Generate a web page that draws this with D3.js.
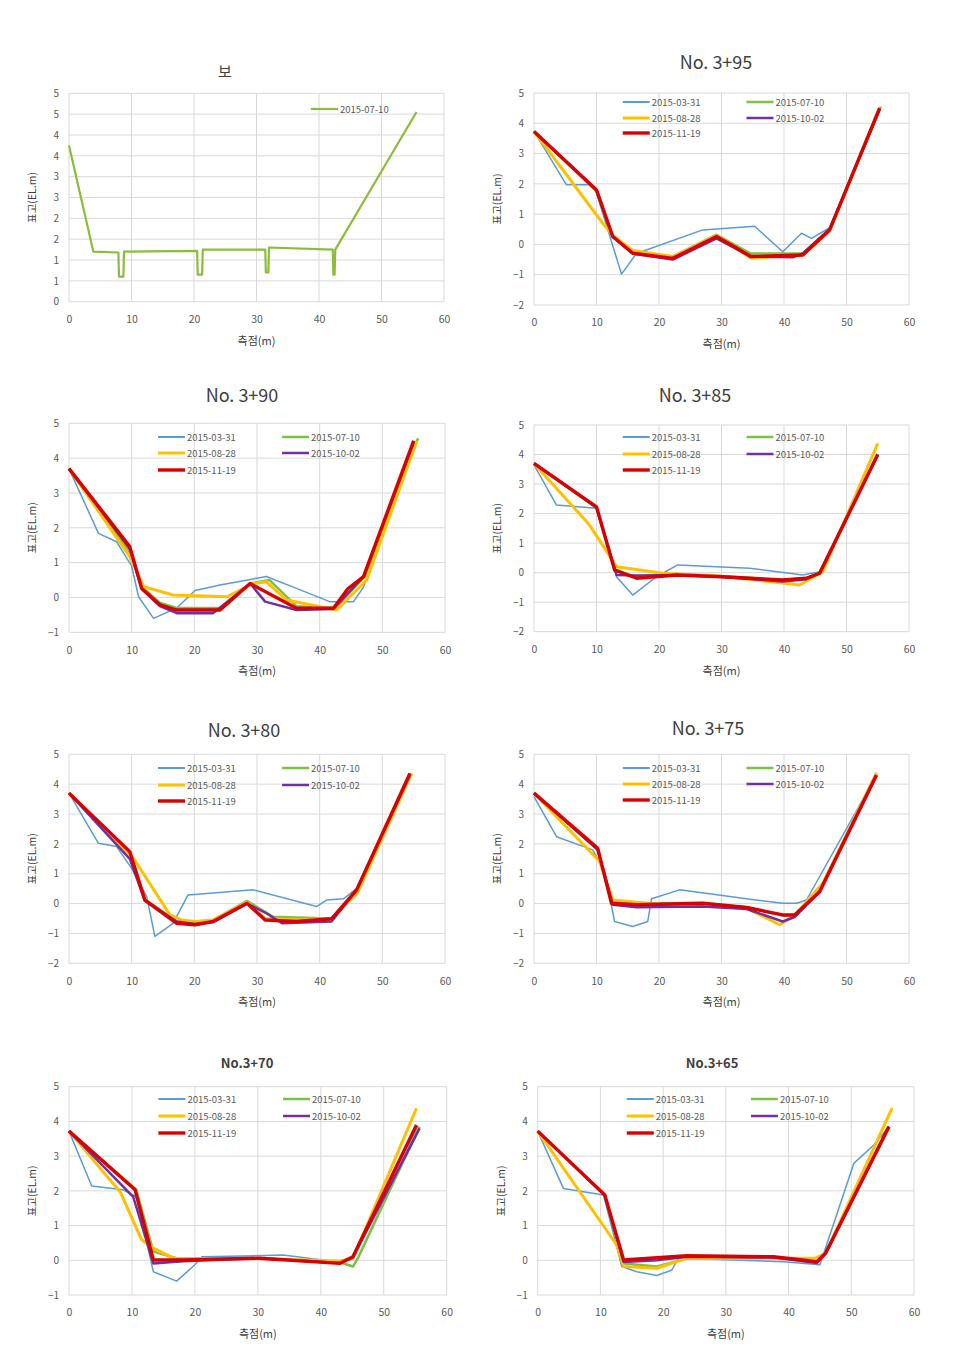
<!DOCTYPE html>
<html><head><meta charset="utf-8">
<script src="https://cdn.jsdelivr.net/npm/d3@7"></script>
<style>
body{margin:0;background:#fff;}
text{font-family:"Noto Sans CJK KR","Noto Sans",sans-serif;}
</style></head>
<body><svg id="c" width="962" height="1362"></svg>
<script>
// ---------- DATA ----------
const seriesNames = ["2015-03-31","2015-07-10","2015-08-28","2015-10-02","2015-11-19"];
const seriesColors = ["#5b9bd5","#7cc242","#ffc000","#7030a0","#d80000"];
const seriesWidths = [1.5,2.5,3,2.5,3.4];
const xTicks = [0,10,20,30,40,50,60];
const yTicksWeir = [0,0.5,1,1.5,2,2.5,3,3.5,4,4.5,5];
const yTickLabelsWeir = ["0","1","1","2","2","3","3","4","4","5","5"];
const yTicksA = [-2,-1,0,1,2,3,4,5];
const yTicksB = [-1,0,1,2,3,4,5];
const titles = ["보","No. 3+95","No. 3+90","No. 3+85","No. 3+80","No. 3+75","No.3+70","No.3+65"];
const xAxisTitle = "측점(m)";
const yAxisTitle = "표고(EL.m)";

// 보 (weir), 2015-07-10
const weir_0710 = [[0,3.75],[3.9,1.2],[7.9,1.18],[8.0,0.6],[8.7,0.6],[8.8,1.2],[20.5,1.22],[20.6,0.65],[21.3,0.65],[21.4,1.25],[31.4,1.25],[31.5,0.7],[31.9,0.7],[32.0,1.3],[42.2,1.25],[42.3,0.65],[42.5,0.65],[42.6,1.25],[55.6,4.55]];

// No. 3+95
const s395_0331 = [[0,3.73],[5.2,1.97],[9.2,1.97],[10,1.7],[14,-0.98],[16.4,-0.3],[27,0.48],[35.3,0.6],[39.8,-0.24],[42.8,0.37],[44.4,0.2],[47.3,0.55],[55.3,4.5]];
const s395_0710 = [[0,3.73],[10,1.75],[12.6,0.25],[15.8,-0.25],[22.2,-0.4],[29.2,0.32],[34.7,-0.3],[43,-0.3],[47.3,0.5],[55.5,4.55]];
const s395_0828 = [[0,3.73],[11,0.7],[12.6,0.3],[15.8,-0.2],[22.2,-0.4],[29.2,0.3],[34.7,-0.45],[43,-0.35],[47.3,0.45],[55.3,4.5]];
const s395_1002 = [[0,3.73],[10,1.8],[12.6,0.25],[15.8,-0.3],[22.2,-0.5],[29.2,0.2],[34.7,-0.4],[41.5,-0.42],[43,-0.3],[47.3,0.5],[55.3,4.45]];
const s395_1119 = [[0,3.73],[10,1.8],[12.6,0.26],[15.8,-0.29],[22.2,-0.46],[29.2,0.26],[34.7,-0.4],[43,-0.35],[47.3,0.48],[55.3,4.5]];

// No. 3+90
const s390_0331 = [[0,3.7],[4.7,1.84],[7.6,1.6],[10,0.9],[11.1,0.02],[13.5,-0.6],[17.2,-0.3],[20.1,0.2],[24.1,0.36],[31.5,0.6],[36.3,0.26],[41.6,-0.12],[45.4,-0.12],[47,0.3],[55,4.5]];
const s390_0710 = [[0,3.7],[9.7,1.3],[11.6,0.3],[14.5,-0.15],[17.2,-0.3],[24.1,-0.3],[28.9,0.4],[32,0.5],[36.3,-0.25],[42.5,-0.3],[47.2,0.6],[55.7,4.57]];
const s390_0828 = [[0,3.7],[9.7,1.17],[11.9,0.31],[16.6,0.07],[25.2,0.02],[29.4,0.4],[31.5,0.45],[34.7,-0.07],[42.7,-0.36],[47.5,0.5],[55.5,4.5]];
const s390_1002 = [[0,3.7],[9.7,1.4],[11.6,0.25],[14.5,-0.25],[17.2,-0.45],[23,-0.45],[28.9,0.4],[31.3,-0.12],[36.3,-0.36],[42.2,-0.33],[47,0.6],[55,4.45]];
const s390_1119 = [[0,3.7],[9.7,1.46],[11.6,0.26],[14.5,-0.21],[17.2,-0.36],[24.1,-0.36],[28.9,0.4],[36.3,-0.31],[42.2,-0.31],[44.5,0.25],[47,0.6],[55,4.5]];

// No. 3+85
const s385_0331 = [[0,3.65],[3.6,2.29],[10,2.18],[13.2,-0.14],[15.8,-0.76],[19.6,-0.14],[23,0.26],[34.5,0.15],[43,-0.08],[45.7,0.03],[55,3.98]];
const s385_0710 = [[0,3.7],[10,2.2],[12.9,0.12],[16.4,-0.15],[22.8,-0.05],[30.2,-0.12],[39.8,-0.25],[43.6,-0.18],[45.7,0],[55,4.02]];
const s385_0828 = [[0,3.7],[8.9,1.61],[13.2,0.2],[20.6,-0.02],[30,-0.12],[42.5,-0.42],[46.2,0.03],[55,4.38]];
const s385_1002 = [[0,3.7],[10,2.2],[13.2,-0.08],[16.4,-0.1],[22.8,-0.08],[30.2,-0.15],[39.8,-0.3],[43.6,-0.22],[45.7,-0.02],[55,3.98]];
const s385_1119 = [[0,3.7],[10,2.23],[12.9,0.09],[16.4,-0.19],[22.8,-0.08],[30.2,-0.14],[39.8,-0.25],[43.6,-0.19],[45.7,-0.02],[55,4.0]];

// No. 3+80
const s380_0331 = [[0,3.7],[4.7,2.02],[7.6,1.91],[10,1.18],[12.4,0.23],[13.7,-1.1],[16.6,-0.66],[19,0.29],[29.4,0.46],[39.5,-0.1],[41.1,0.12],[43.8,0.16],[45.9,0.51],[54.4,4.3]];
const s380_0710 = [[0,3.7],[9.7,1.7],[12.1,0.15],[17.2,-0.6],[20.1,-0.62],[23,-0.55],[28.4,0.09],[32.6,-0.44],[36.3,-0.47],[41.9,-0.5],[45.9,0.46],[54.4,4.36]];
const s380_0828 = [[0,3.7],[10.3,1.52],[16.1,-0.38],[18,-0.55],[20.1,-0.6],[23,-0.55],[28.4,0.05],[31.3,-0.5],[36.3,-0.55],[41.9,-0.5],[46,0.35],[54.7,4.36]];
const s380_1002 = [[0,3.7],[9.7,1.5],[12.1,0.1],[17.2,-0.6],[20.1,-0.68],[23,-0.62],[28.4,0.0],[31.3,-0.3],[34,-0.66],[41.9,-0.6],[45.9,0.46],[54.4,4.3]];
const s380_1119 = [[0,3.7],[9.7,1.74],[12.1,0.12],[17.2,-0.66],[20.1,-0.71],[23,-0.6],[28.4,0.01],[31.3,-0.55],[36.3,-0.6],[41.9,-0.51],[45.9,0.46],[54.4,4.36]];

// No. 3+75
const s375_0331 = [[0,3.58],[3.6,2.24],[9.4,1.8],[11.3,1.07],[12.9,-0.6],[15.8,-0.77],[18.2,-0.6],[18.8,0.16],[23.3,0.46],[33.4,0.18],[39.8,0.01],[42,0.01],[43.6,0.12],[54.8,4.3]];
const s375_0710 = [[0,3.7],[10.2,1.8],[12.4,0.05],[16.4,0],[27,0.02],[34,-0.12],[39.8,-0.4],[41.7,-0.4],[45.7,0.45],[54.8,4.3]];
const s375_0828 = [[0,3.7],[10.5,1.41],[12.6,0.12],[20,-0.02],[27,-0.02],[34,-0.15],[39.3,-0.71],[41.7,-0.4],[46.2,0.68],[54.8,4.38]];
const s375_1002 = [[0,3.7],[10.2,1.8],[12.6,-0.04],[16.4,-0.12],[27,-0.1],[34,-0.18],[39.8,-0.6],[41.7,-0.45],[45.7,0.4],[54.8,4.3]];
const s375_1119 = [[0,3.7],[10.2,1.85],[12.4,0.01],[16.4,-0.04],[27,0.01],[34,-0.13],[39.8,-0.38],[41.7,-0.38],[45.7,0.4],[54.8,4.31]];

// No.3+70
const s370_0331 = [[0,3.72],[3.6,2.14],[8.6,2.03],[10.7,1.83],[13.4,-0.33],[17.1,-0.6],[20,-0.13],[21.1,0.1],[34,0.15],[42.5,-0.04],[45.1,-0.18],[46,0.1],[55.4,3.85]];
const s370_0710 = [[0,3.72],[10.7,2.03],[13.4,0.25],[17.1,0.06],[21,0.05],[30.3,0.06],[43,-0.05],[45.1,-0.18],[46,0.1],[55.7,3.85]];
const s370_0828 = [[0,3.72],[8.2,1.95],[11.5,0.6],[13.4,0.35],[16.6,0.06],[30.3,0.05],[43,-0.02],[45.1,0.05],[55.2,4.38]];
const s370_1002 = [[0,3.72],[10.2,1.83],[13.4,-0.09],[18.1,-0.03],[30.3,0.06],[43,-0.08],[45.1,0.08],[55.7,3.8]];
const s370_1119 = [[0,3.72],[10.5,2.03],[13.4,0.01],[18.1,0.01],[30.3,0.06],[43,-0.09],[45.1,0.1],[55.2,3.9]];

// No.3+65
const s365_0331 = [[0,3.72],[4.1,2.07],[10.5,1.88],[13.4,-0.18],[15.8,-0.33],[19,-0.44],[21.4,-0.28],[22.4,0.06],[39.2,-0.04],[45,-0.13],[50.4,2.79],[53.6,3.32],[56,3.85]];
const s365_0710 = [[0,3.72],[10.7,1.88],[13.7,-0.09],[19,-0.18],[23.8,0.05],[37.6,0.08],[44.5,-0.04],[45.9,0.2],[56,3.85]];
const s365_0828 = [[0,3.72],[12.6,0.44],[13.7,-0.18],[19,-0.23],[23.8,0.06],[44.3,0.06],[45.9,0.2],[56.5,4.38]];
const s365_1002 = [[0,3.72],[10.7,1.88],[13.7,-0.05],[19,0.0],[23.8,0.1],[37.6,0.08],[44.5,-0.08],[45.9,0.2],[56,3.85]];
const s365_1119 = [[0,3.72],[10.7,1.88],[13.7,0.01],[23.8,0.13],[37.6,0.1],[44.5,-0.04],[45.9,0.2],[56,3.85]];

// ---------- LAYOUT ----------
const layout = [
  {x0:69, x1:444, yTop:93.3, yBot:301.7, titleX:225, titleY:77, titleSize:15, titleBold:false, legY:[109]},
  {x0:534, x1:909, yTop:93, yBot:305, titleX:716, titleY:69, titleSize:18, titleBold:false, legY:[102,118,133]},
  {x0:69, x1:445, yTop:423.3, yBot:632.3, titleX:242, titleY:402, titleSize:18, titleBold:false, legY:[437,453,470]},
  {x0:534, x1:909, yTop:425, yBot:631.7, titleX:695, titleY:402, titleSize:18, titleBold:false, legY:[437,454,470]},
  {x0:69, x1:445, yTop:754.3, yBot:963.3, titleX:244, titleY:737, titleSize:18, titleBold:false, legY:[768,785,801]},
  {x0:534, x1:909, yTop:754.3, yBot:963.3, titleX:708, titleY:735, titleSize:18, titleBold:false, legY:[768,784,800]},
  {x0:69, x1:446.7, yTop:1086.7, yBot:1295, titleX:247, titleY:1068, titleSize:13, titleBold:true, legY:[1099,1116,1133]},
  {x0:537.7, x1:914, yTop:1086.7, yBot:1295, titleX:712, titleY:1068, titleSize:13, titleBold:true, legY:[1099,1116,1133]}
];

const panels = [
  {series:[weir_0710], names:["2015-07-10"], colors:["#8dbb3c"], widths:[2.2], yDomain:[0,5], yTicks:yTicksWeir, yLabels:yTickLabelsWeir, single:true},
  {series:[s395_0331,s395_0710,s395_0828,s395_1002,s395_1119], yDomain:[-2,5], yTicks:yTicksA},
  {series:[s390_0331,s390_0710,s390_0828,s390_1002,s390_1119], yDomain:[-1,5], yTicks:yTicksB},
  {series:[s385_0331,s385_0710,s385_0828,s385_1002,s385_1119], yDomain:[-2,5], yTicks:yTicksA},
  {series:[s380_0331,s380_0710,s380_0828,s380_1002,s380_1119], yDomain:[-2,5], yTicks:yTicksA},
  {series:[s375_0331,s375_0710,s375_0828,s375_1002,s375_1119], yDomain:[-2,5], yTicks:yTicksA},
  {series:[s370_0331,s370_0710,s370_0828,s370_1002,s370_1119], yDomain:[-1,5], yTicks:yTicksB},
  {series:[s365_0331,s365_0710,s365_0828,s365_1002,s365_1119], yDomain:[-1,5], yTicks:yTicksB}
];

// ---------- DRAW ----------
const svg = d3.select("#c");
svg.append("rect").attr("width",962).attr("height",1362).attr("fill","#fff");

panels.forEach((p, i) => {
  const L = layout[i];
  const g = svg.append("g");
  const x = d3.scaleLinear().domain([0,60]).range([L.x0, L.x1]);
  const y = d3.scaleLinear().domain(p.yDomain).range([L.yBot, L.yTop]);

  // grid
  g.append("g").selectAll("line.h").data(p.yTicks).join("line")
    .attr("x1",L.x0).attr("x2",L.x1).attr("y1",d=>y(d)).attr("y2",d=>y(d))
    .attr("stroke","#d9d9d9").attr("stroke-width",1);
  g.append("g").selectAll("line.v").data(xTicks).join("line")
    .attr("x1",d=>x(d)).attr("x2",d=>x(d)).attr("y1",L.yTop).attr("y2",L.yBot)
    .attr("stroke","#d9d9d9").attr("stroke-width",1);

  // axes (labels only)
  const xa = g.append("g").attr("transform",`translate(0,${L.yBot})`)
    .call(d3.axisBottom(x).tickValues(xTicks).tickSize(0).tickPadding(14).tickFormat(d3.format("d")));
  xa.select(".domain").remove();
  xa.selectAll("text").attr("fill","#595959").attr("font-size",10.5);
  const ya = g.append("g").attr("transform",`translate(${L.x0},0)`)
    .call(d3.axisLeft(y).tickValues(p.yTicks).tickSize(0).tickPadding(10)
      .tickFormat((d,k)=> p.yLabels ? p.yLabels[k] : d3.format("d")(d)));
  ya.select(".domain").remove();
  ya.selectAll("text").attr("fill","#595959").attr("font-size",10);

  // title
  g.append("text").attr("x",L.titleX).attr("y",L.titleY).attr("text-anchor","middle")
    .attr("font-size",L.titleSize).attr("font-weight",L.titleBold?"bold":"normal")
    .attr("fill","#404040").text(titles[i]);

  // axis titles
  g.append("text").attr("x",(L.x0+L.x1)/2).attr("y",L.yBot+43).attr("text-anchor","middle")
    .attr("font-size",11).attr("fill","#404040").text(xAxisTitle);
  g.append("text").attr("transform",`translate(${L.x0-33},${(L.yTop+L.yBot)/2}) rotate(-90)`)
    .attr("text-anchor","middle").attr("font-size",10.5).attr("fill","#404040").text(yAxisTitle);

  // lines
  const line = d3.line().x(d=>x(d[0])).y(d=>y(d[1]));
  const colors = p.colors || seriesColors;
  const widths = p.widths || seriesWidths;
  const names = p.names || seriesNames;
  p.series.forEach((s, k) => {
    g.append("path").attr("d", line(s)).attr("fill","none")
      .attr("stroke", colors[k]).attr("stroke-width", widths[k])
      .attr("stroke-linejoin","round");
  });

  // legend
  const lg = g.append("g");
  names.forEach((n, k) => {
    let lx, ly;
    if (p.single) { lx = x(38.7); ly = L.legY[0]; }
    else {
      const col = (k===1||k===3) ? 1 : 0;
      const row = k===4 ? 2 : (k<2 ? 0 : 1);
      lx = col ? x(34.0) : x(14.2);
      ly = L.legY[row];
    }
    lg.append("line").attr("x1",lx).attr("x2",lx+27).attr("y1",ly).attr("y2",ly)
      .attr("stroke",colors[k]).attr("stroke-width",Math.max(widths[k],2));
    lg.append("text").attr("x",lx+29).attr("y",ly+3.5).attr("font-size",9.5)
      .attr("fill","#595959").text(n);
  });
});
</script>
</body></html>
